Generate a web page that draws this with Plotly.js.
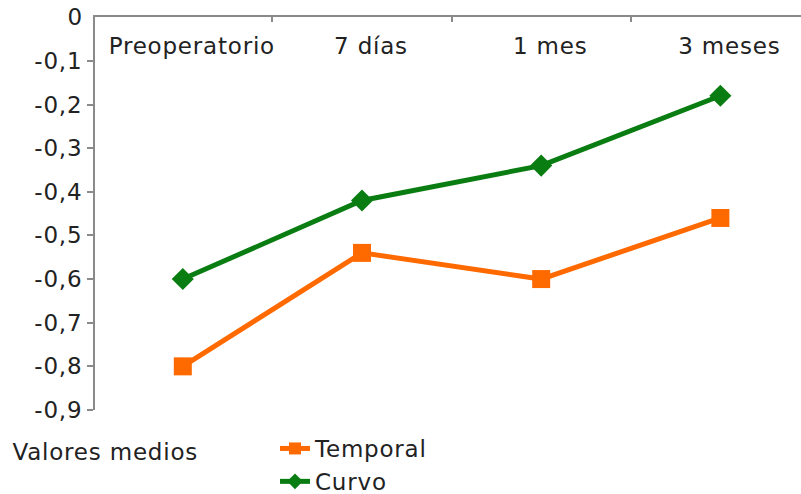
<!DOCTYPE html>
<html>
<head>
<meta charset="utf-8">
<script src="https://cdn.plot.ly/plotly-3.0.1.min.js"></script>
<style>
  html, body { margin: 0; padding: 0; background: #ffffff; }
  #chart { width: 801px; height: 494px; }
  #chart svg text { letter-spacing: 0.8px; }
</style>
</head>
<body>
<div id="chart"></div>
<script>
// Time points of the follow-up
var periods = ["Preoperatorio", "7 días", "1 mes", "3 meses"];

// Mean values for each incision type
var temporalValues = [-0.80, -0.54, -0.60, -0.46];
var curvoValues = [-0.60, -0.42, -0.34, -0.18];

// Y axis ticks and their labels (comma as decimal separator)
var yTickValues = [0, -0.1, -0.2, -0.3, -0.4, -0.5, -0.6, -0.7, -0.8, -0.9];
var yTickLabels = ["0", "-0,1", "-0,2", "-0,3", "-0,4", "-0,5", "-0,6", "-0,7", "-0,8", "-0,9"];

var FONT = "DejaVu Sans, Verdana, sans-serif";
var FONT_SIZE = 23;
var AXIS_GREY = "#8a8a8a";
var TEXT_COLOR = "#222222";

var traces = [
  {
    x: periods,
    y: temporalValues,
    name: "Temporal",
    type: "scatter",
    mode: "lines+markers",
    line: { color: "#ff6a00", width: 5 },
    marker: { symbol: "square", size: 18, color: "#ff6a00" },
    legendgroup: "t"
  },
  {
    x: periods,
    y: curvoValues,
    name: "Curvo",
    type: "scatter",
    mode: "lines+markers",
    line: { color: "#0a7d12", width: 5 },
    marker: { symbol: "diamond", size: 17, color: "#0a7d12" },
    legendgroup: "c"
  }
];

// The label at the top of the y axis sits where the x axis meets it,
// where the axis drops it, so it is written as an annotation at that tick.
var topTickIndex = 0;

var layout = {
  width: 801,
  height: 494,
  margin: { l: 95, r: 0, t: 17, b: 84, autoexpand: false },
  paper_bgcolor: "#ffffff",
  plot_bgcolor: "#ffffff",
  font: { family: FONT, size: FONT_SIZE, color: TEXT_COLOR },
  xaxis: {
    type: "category",
    side: "top",
    range: [-0.49, 3.45],
    automargin: false,
    showline: true,
    linecolor: AXIS_GREY,
    linewidth: 2,
    showgrid: false,
    zeroline: false,
    ticks: "inside",
    tickson: "boundaries",
    ticklen: 5,
    tickwidth: 2,
    tickcolor: AXIS_GREY,
    ticklabelposition: "inside",
    ticklabelshift: 9,
    ticklabelstandoff: 18,
    tickfont: { family: FONT, size: FONT_SIZE, color: TEXT_COLOR },
    fixedrange: true
  },
  yaxis: {
    range: [-0.9, 0.0005],
    automargin: false,
    showline: true,
    linecolor: AXIS_GREY,
    linewidth: 2,
    showgrid: false,
    zeroline: false,
    ticks: "outside",
    ticklen: 6,
    tickwidth: 2,
    tickcolor: AXIS_GREY,
    tickmode: "array",
    tickvals: yTickValues,
    ticktext: yTickLabels.map(function (t, i) { return i === topTickIndex ? "" : t; }),
    tickfont: { family: FONT, size: FONT_SIZE, color: TEXT_COLOR },
    fixedrange: true
  },
  showlegend: true,
  legend: {
    xref: "container",
    yref: "container",
    x: 275 / 801,
    y: 1 - 427 / 494,
    xanchor: "left",
    yanchor: "top",
    orientation: "v",
    bgcolor: "rgba(0,0,0,0)",
    borderwidth: 0,
    itemsizing: "constant",
    tracegroupgap: 0,
    font: { family: FONT, size: FONT_SIZE, color: TEXT_COLOR }
  },
  annotations: [
    {
      text: yTickLabels[topTickIndex],
      xref: "paper",
      yref: "y",
      x: 0,
      y: yTickValues[topTickIndex],
      xanchor: "right",
      yanchor: "middle",
      showarrow: false,
      xshift: -10,
      font: { family: FONT, size: FONT_SIZE, color: TEXT_COLOR }
    },
    {
      text: "Valores medios",
      xref: "paper",
      yref: "paper",
      x: -95 / 706,
      y: -(452 - 410) / 393,
      xanchor: "left",
      yanchor: "middle",
      showarrow: false,
      xshift: 16,
      font: { family: FONT, size: FONT_SIZE, color: TEXT_COLOR }
    }
  ]
};

Plotly.newPlot("chart", traces, layout, { displayModeBar: false, staticPlot: true });
</script>
</body>
</html>
